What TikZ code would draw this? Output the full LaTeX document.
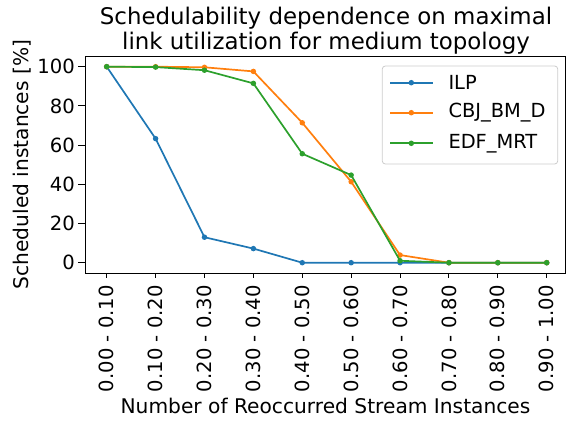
\documentclass[tikz,border=0pt]{standalone}
\usepackage{fontspec}
\setmainfont{DejaVu Sans}
\definecolor{cblue}{HTML}{1F77B4}
\definecolor{corange}{HTML}{FF7F0E}
\definecolor{cgreen}{HTML}{2CA02C}
\tikzset{
  txt/.style={font=\fontsize{20.2}{24}\selectfont, inner sep=0pt},
  ticktxt/.style={font=\fontsize{19.6}{24}\selectfont, inner sep=0pt},
  legtxt/.style={font=\fontsize{19.4}{24}\selectfont, inner sep=0pt},
  titletxt/.style={font=\fontsize{22.9}{27}\selectfont, inner sep=0pt},
  series/.style={line width=1.7pt, line join=round},
  dot/.style={circle, fill=#1, inner sep=0pt, minimum size=5.5pt},
  tick/.style={line width=0.9pt},
}
\begin{document}
\begin{tikzpicture}[x=1pt,y=-1pt]
\useasboundingbox (0,0) rectangle (567,423);
% title
\node[titletxt, anchor=base] (t1) at (326,24) {Schedulability dependence on maximal};
\node[titletxt, anchor=base] (t2) at (326,49.3) {link utilization for medium topology};
% axes frame
\draw[line width=0.9pt] (85,56) rectangle (565,273);
% y ticks
\foreach \v in {0,20,...,100}{
  \pgfmathsetmacro{\yy}{262.7-1.96*\v}
  \draw[tick] (78,\yy) -- (85,\yy);
  \node[ticktxt, anchor=east] (yl\v) at (75,\yy) {\v};
}
% x ticks
\foreach \i/\lab in {0/0.00 - 0.10,1/0.10 - 0.20,2/0.20 - 0.30,3/0.30 - 0.40,4/0.40 - 0.50,5/0.50 - 0.60,6/0.60 - 0.70,7/0.70 - 0.80,8/0.80 - 0.90,9/0.90 - 1.00}{
  \pgfmathsetmacro{\xx}{106.7+48.89*\i}
  \draw[tick] (\xx,273) -- (\xx,278);
  \node[ticktxt, rotate=90, anchor=east] (xl\i) at (\xx,285) {\lab};
}
% axis labels
\node[txt, anchor=base] (xlab) at (325.5,413.3) {Number of Reoccurred Stream Instances};
\node[txt, rotate=90, anchor=base] (ylab) at (28.3,164.5) {Scheduled instances [\%]};
% data
\begin{scope}[shift={(106.7,262.7)}, x=48.89pt, y=1.96pt]
  \foreach \name/\col/\vals in {
      ilp/cblue/{100,63.3,13,7.2,0,0,0,0,0,0},
      cbj/corange/{100,100,99.7,97.6,71.4,41.3,3.9,0,0,0},
      edf/cgreen/{100,99.8,98.2,91.5,55.6,44.7,1,0,0,0}}{
    \foreach \v [count=\k from 0] in \vals {
      \coordinate (\name\k) at (\k,\v);
    }
    \draw[series, \col] (\name0) \foreach \k in {1,...,9}{ -- (\name\k)};
    \foreach \k in {0,...,9}{ \node[dot=\col] at (\name\k) {}; }
  }
\end{scope}
% legend
\draw[rounded corners=3pt, draw=black!20, fill=white, fill opacity=0.8, line width=0.8pt] (382.3,66) rectangle (557.7,164);
\foreach \n/\col/\lab/\yy in {a/cblue/ILP/82.7, b/corange/CBJ\_BM\_D/112.7, g/cgreen/EDF\_MRT/143.3}{
  \coordinate (legL\n) at (390,\yy);
  \coordinate (legR\n) at (432.7,\yy);
  \draw[series, draw=\col] (legL\n) -- (legR\n);
  \node[dot=\col] (legM\n) at (411.3,\yy) {};
  \node[legtxt, anchor=west] (legT\n) at (448.3,\yy) {\lab};
}
\end{tikzpicture}
\end{document}
